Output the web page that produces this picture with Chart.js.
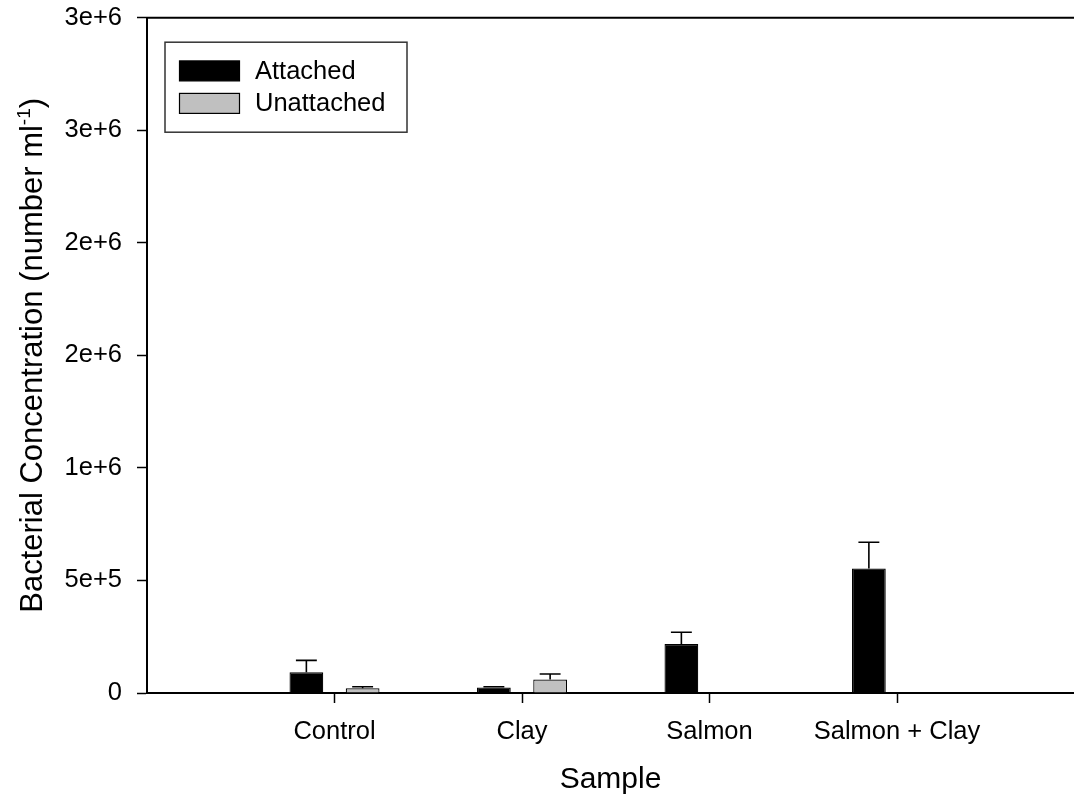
<!DOCTYPE html>
<html>
<head>
<meta charset="utf-8">
<script src="https://cdn.jsdelivr.net/npm/chart.js@4/dist/chart.umd.min.js"></script>
<style>
  body { margin: 0; background: #fff; }
  #wrap { width: 1074px; height: 804px; }
</style>
</head>
<body>
<div id="wrap"><canvas id="myChart" width="1074" height="804"></canvas></div>
<script>
// sample groups along the x axis
const xCategories = ['Control', 'Clay', 'Salmon', 'Salmon + Clay'];

// bacterial counts per ml, mean and upper error
const attached = [92000, 24000, 218000, 553000];
const attachedErr = [53000, 4000, 52000, 117000];
const unattached = [21000, 59500, null, null];
const unattachedErr = [7000, 25000, null, null];

const yTickLabels = ['0', '5e+5', '1e+6', '2e+6', '2e+6', '3e+6', '3e+6'];

const FONT = 'Liberation Sans, Arial, Helvetica, sans-serif';

// error bars (upper half only, with a cap)
const errorBars = {
    id: 'errorBars',
    afterDatasetsDraw(chart) {
        const ctx = chart.ctx;
        const yScale = chart.scales.y;
        ctx.save();
        ctx.strokeStyle = '#000';
        ctx.lineWidth = 1.6;
        chart.data.datasets.forEach(function (ds, di) {
            const meta = chart.getDatasetMeta(di);
            ds.errors.forEach(function (err, i) {
                const val = ds.data[i].y;
                if (val == null || !err) return;
                const bar = meta.data[i];
                const yTop = yScale.getPixelForValue(val + err);
                const cap = bar.width * 0.62;
                ctx.beginPath();
                ctx.moveTo(bar.x, bar.y);
                ctx.lineTo(bar.x, yTop);
                ctx.moveTo(bar.x - cap / 2, yTop);
                ctx.lineTo(bar.x + cap / 2, yTop);
                ctx.stroke();
            });
        });
        ctx.restore();
    }
};

// top frame line, boxed legend and y title with superscript
const decorations = {
    id: 'decorations',
    afterDraw(chart) {
        const ctx = chart.ctx;
        const area = chart.chartArea;
        ctx.save();

        ctx.strokeStyle = '#000';
        ctx.lineWidth = 2;
        ctx.beginPath();
        ctx.moveTo(area.left - 1, area.top);
        ctx.lineTo(area.right, area.top);
        ctx.stroke();

        // legend
        const bx = area.left + 18, by = area.top + 24.5;
        ctx.strokeStyle = '#333';
        ctx.lineWidth = 1.5;
        ctx.strokeRect(bx, by, 242, 90);
        ctx.font = '25.5px ' + FONT;
        ctx.textBaseline = 'middle';
        ctx.textAlign = 'left';
        chart.data.datasets.forEach(function (ds, i) {
            const cy = by + 28.7 + i * 32.5;
            ctx.fillStyle = ds.backgroundColor;
            ctx.fillRect(bx + 14.5, cy - 10, 60, 20);
            ctx.strokeStyle = '#000';
            ctx.lineWidth = 1.2;
            ctx.strokeRect(bx + 14.5, cy - 10, 60, 20);
            ctx.fillStyle = '#000';
            ctx.fillText(ds.label, bx + 90, cy + 1);
        });

        // y axis title
        const main = 'Bacterial Concentration (number ml';
        const sup = '-1';
        const close = ')';
        const big = '31px ' + FONT;
        const small = '19px ' + FONT;
        ctx.font = big;
        const wMain = ctx.measureText(main).width;
        const wClose = ctx.measureText(close).width;
        ctx.font = small;
        const wSup = ctx.measureText(sup).width;
        const total = wMain + wSup + wClose;
        ctx.translate(42, (area.top + area.bottom) / 2);
        ctx.rotate(-Math.PI / 2);
        ctx.fillStyle = '#000';
        ctx.textBaseline = 'alphabetic';
        let x = -total / 2;
        ctx.font = big;
        ctx.fillText(main, x, 0);
        x += wMain;
        ctx.font = small;
        ctx.fillText(sup, x, -12);
        x += wSup;
        ctx.font = big;
        ctx.fillText(close, x, 0);

        ctx.restore();
    }
};

const ctx = document.getElementById('myChart').getContext('2d');
const myChart = new Chart(ctx, {
    type: 'bar',
    data: {
        datasets: [{
            label: 'Attached',
            data: attached.map((v, i) => ({ x: i + 1, y: v })),
            errors: attachedErr,
            backgroundColor: '#000000',
            borderColor: '#000000',
            borderWidth: 1.2
        }, {
            label: 'Unattached',
            data: unattached.map((v, i) => ({ x: i + 1, y: v })),
            errors: unattachedErr,
            backgroundColor: '#c0c0c0',
            borderColor: '#000000',
            borderWidth: 1.2
        }]
    },
    options: {
        responsive: false,
        animation: false,
        categoryPercentage: 0.6,
        barPercentage: 0.6,
        layout: { padding: { top: 17.7, right: 0, left: 0, bottom: 0 } },
        plugins: {
            legend: { display: false },
            tooltip: { enabled: false }
        },
        scales: {
            x: {
                type: 'linear',
                min: 0,
                max: 4.944,
                offset: false,
                afterBuildTicks: function (scale) {
                    scale.ticks = xCategories.map((c, i) => ({ value: i + 1 }));
                },
                afterFit: function (scale) {
                    scale.height = 111;
                    scale.paddingLeft = 0;
                    scale.paddingRight = 0;
                },
                ticks: {
                    autoSkip: false,
                    maxRotation: 0,
                    padding: 14,
                    color: '#000',
                    font: { family: FONT, size: 25.5 },
                    callback: (value) => xCategories[value - 1]
                },
                grid: {
                    offset: false,
                    drawOnChartArea: false,
                    tickLength: 10,
                    tickWidth: 1.5,
                    color: '#000'
                },
                border: { display: true, color: '#000', width: 2 },
                title: {
                    display: true,
                    text: 'Sample',
                    color: '#000',
                    font: { family: FONT, size: 30 },
                    padding: { top: 0, bottom: 6 }
                }
            },
            y: {
                min: 0,
                max: 3000000,
                afterFit: function (scale) {
                    scale.width = 147;
                    scale.paddingTop = 0;
                    scale.paddingBottom = 0;
                },
                ticks: {
                    stepSize: 500000,
                    padding: 15,
                    color: '#000',
                    font: { family: FONT, size: 25.5 },
                    callback: (value, index) => yTickLabels[index]
                },
                grid: {
                    drawOnChartArea: false,
                    tickLength: 10,
                    tickWidth: 1.5,
                    color: '#000'
                },
                border: { display: true, color: '#000', width: 2 }
            }
        }
    },
    plugins: [errorBars, decorations]
});
</script>
</body>
</html>
